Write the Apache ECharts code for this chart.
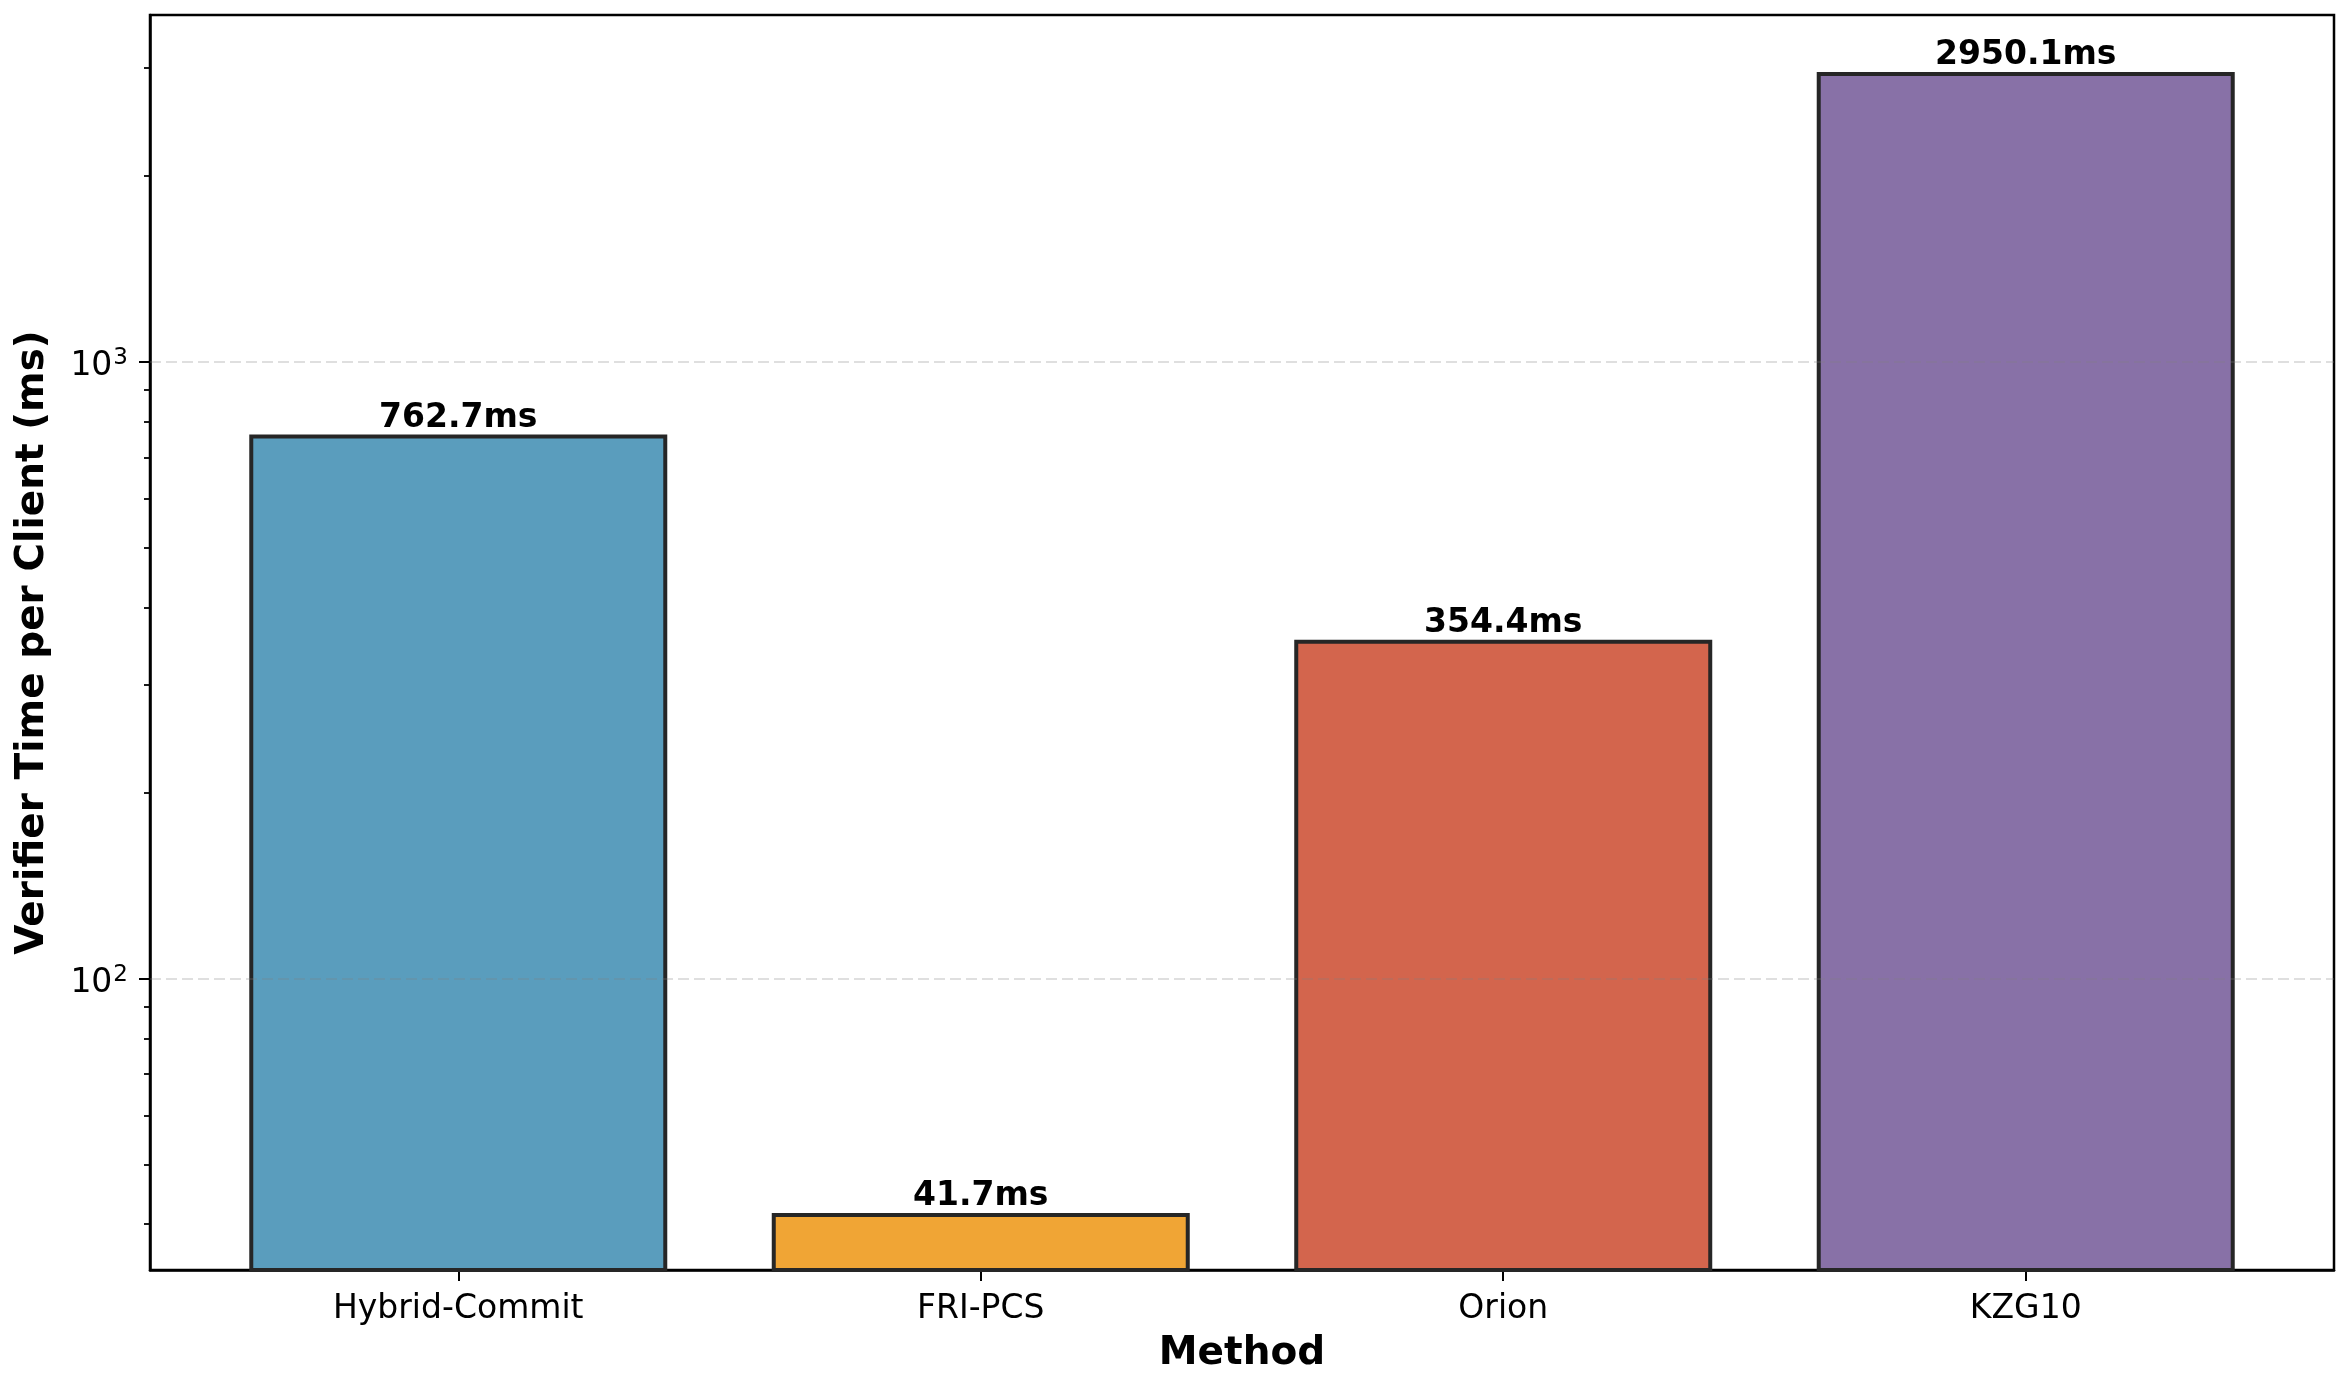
<!DOCTYPE html>
<html>
<head>
<meta charset="utf-8">
<script src="https://cdn.jsdelivr.net/npm/echarts@6/dist/echarts.min.js"></script>
<style>
html,body{margin:0;padding:0;background:#fff;}
#chart{width:2348px;height:1379px;}
</style>
</head>
<body>
<div id="chart"></div>
<script>
const categories = ['Hybrid-Commit', 'FRI-PCS', 'Orion', 'KZG10'];
const values = [762.7, 41.7, 354.4, 2950.1];
const barColors = ['#5A9DBD', '#F0A535', '#D3654D', '#8871A7'];
const majorTicks = [100, 1000];
const minorTicks = [40, 50, 60, 70, 80, 90, 200, 300, 400, 500, 600, 700, 800, 900, 2000, 3000];
const xTicks = [0, 1, 2, 3];

const FONT = 'DejaVu Sans';
const chart = echarts.init(document.getElementById('chart'), null, {renderer: 'canvas'});

const option = {
  backgroundColor: '#ffffff',
  animation: false,
  grid: {
    left: 150, right: 14, top: 15, bottom: 109,
    outerBoundsMode: 'none',
    containLabel: false,
    show: true, borderColor: '#000', borderWidth: 2.5, backgroundColor: 'transparent'
  },
  xAxis: [{
    type: 'value',
    min: -0.59, max: 3.59,
    name: 'Method',
    nameLocation: 'middle',
    nameGap: 64,
    nameTextStyle: {fontFamily: FONT, fontSize: 39, fontWeight: 'bold', color: '#000'},
    axisLine: {show: true, onZero: false, lineStyle: {color: '#000', width: 2.5}},
    axisTick: {show: true, customValues: xTicks, length: 11, lineStyle: {color: '#000', width: 2}},
    axisLabel: {
      customValues: xTicks, margin: 23,
      fontFamily: FONT, fontSize: 33, color: '#000',
      formatter: v => categories[Math.round(v)] || ''
    },
    splitLine: {show: false}
  }],
  yAxis: [{
    type: 'log',
    logBase: 10,
    min: 33.7, max: 3651,
    name: 'Verifier Time per Client (ms)',
    nameLocation: 'middle',
    nameRotate: 90,
    nameGap: 98,
    nameTextStyle: {fontFamily: FONT, fontSize: 39, fontWeight: 'bold', color: '#000'},
    axisLine: {show: true, onZero: false, lineStyle: {color: '#000', width: 2.5}},
    axisTick: {show: true, customValues: majorTicks, length: 11, lineStyle: {color: '#000', width: 2}},
    axisLabel: {
      customValues: majorTicks, margin: 22,
      formatter: v => '{b|10}{s|' + Math.round(Math.log10(v)) + '}',
      rich: {
        b: {fontFamily: FONT, fontSize: 33, color: '#000', padding: [10, 0, 0, 0]},
        s: {fontFamily: FONT, fontSize: 23, color: '#000', padding: [0, 0, 8, 1]}
      }
    },
    splitLine: {show: false}
  }, {
    type: 'log',
    logBase: 10,
    min: 33.7, max: 3651,
    position: 'left',
    axisLine: {show: false, onZero: false},
    axisTick: {show: true, customValues: minorTicks, length: 6, lineStyle: {color: '#000', width: 1.8}},
    axisLabel: {show: false},
    splitLine: {show: false}
  }],
  series: [{
    type: 'bar',
    xAxisIndex: 0,
    yAxisIndex: 0,
    barWidth: 418,
    data: values.map((v, i) => ({
      value: [i, v],
      itemStyle: {color: barColors[i], borderColor: '#262626', borderWidth: 4}
    })),
    label: {
      show: true, position: 'top', distance: 0,
      fontFamily: FONT, fontSize: 33, fontWeight: 'bold', color: '#000',
      formatter: p => p.value[1].toFixed(1) + 'ms'
    },
    markLine: {
      silent: true,
      symbol: 'none',
      label: {show: false},
      lineStyle: {color: 'rgba(128,128,128,0.25)', type: [11, 5], width: 2},
      data: majorTicks.map(t => ({yAxis: t}))
    }
  }]
};
chart.setOption(option);
</script>
</body>
</html>
